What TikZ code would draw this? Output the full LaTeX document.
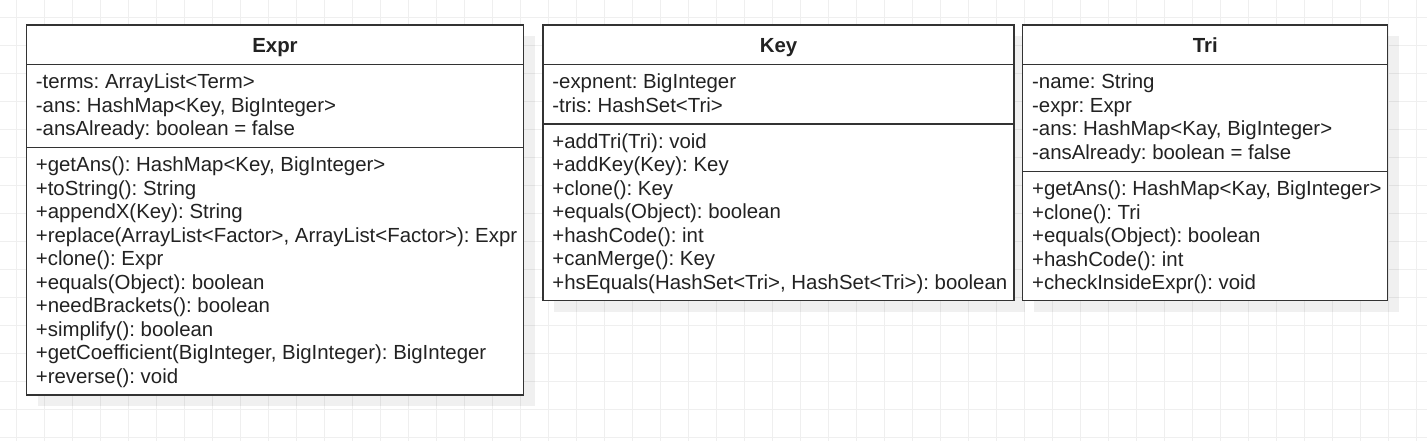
\documentclass[tikz,border=0pt]{standalone}
\usepackage{fontspec}
\setmainfont{Liberation Sans}
\usepackage{tikz}
\usetikzlibrary{positioning,backgrounds}
\definecolor{umlline}{HTML}{333333}
\definecolor{umltext}{HTML}{222222}
\definecolor{gridgray}{HTML}{EFEFEF}
\frenchspacing

\begin{document}
\begin{tikzpicture}[x=0.5pt, y=-0.5pt,
	class part/.style={draw=umlline, line width=0.75pt, fill=white, inner sep=0pt, outer sep=0pt, text=umltext},
	class head/.style={class part, anchor=north west, minimum height=19.75pt, text height=7.3pt, text depth=0pt, font=\bfseries\fontsize{10.2}{12}\selectfont},
	member/.style={anchor=base west, inner sep=0pt, text=umltext, font=\fontsize{10.2}{12}\selectfont}]
	
	\useasboundingbox (0,0) rectangle (1427,441);
	
	%Expr
	\node [class head, minimum width=248.5pt] (expr-head) at (26.5,25) {Expr};
	\node [class part, minimum width=248.5pt, minimum height=41.5pt, below=0pt of expr-head] (expr-attr) {};
	\node [class part, minimum width=248.5pt, minimum height=123.75pt, below=0pt of expr-attr] (expr-ops) {};
	
	\foreach \m [count=\i] in {-terms: ArrayList<Term>, {-ans: HashMap<Key, BigInteger>}, -ansAlready: boolean = false}
	  \node [member] (expr-attr-\i) at ([xshift=4.5pt, yshift={-0.25pt-\i*11.75pt}]expr-attr.north west) {\m};
	\foreach \m [count=\i] in {{+getAns(): HashMap<Key, BigInteger>}, +toString(): String, +appendX(Key): String,
	    {+replace(ArrayList<Factor>, ArrayList<Factor>): Expr}, +clone(): Expr, +equals(Object): boolean,
	    +needBrackets(): boolean, +simplify(): boolean, {+getCoefficient(BigInteger, BigInteger): BigInteger}, +reverse(): void}
	  \node [member] (expr-op-\i) at ([xshift=4.5pt, yshift={-0.25pt-\i*11.75pt}]expr-ops.north west) {\m};
	
	%Key
	\node [class head, minimum width=235.5pt] (key-head) at (543,25) {Key};
	\node [class part, minimum width=235.5pt, minimum height=29.75pt, below=0pt of key-head] (key-attr) {};
	\node [class part, minimum width=235.5pt, minimum height=88.25pt, below=0pt of key-attr] (key-ops) {};
	
	\foreach \m [count=\i] in {-expnent: BigInteger, -tris: HashSet<Tri>}
	  \node [member] (key-attr-\i) at ([xshift=4.5pt, yshift={-0.25pt-\i*11.75pt}]key-attr.north west) {\m};
	\foreach \m [count=\i] in {+addTri(Tri): void, +addKey(Key): Key, +clone(): Key, +equals(Object): boolean,
	    +hashCode(): int, +canMerge(): Key, {+hsEquals(HashSet<Tri>, HashSet<Tri>): boolean}}
	  \node [member] (key-op-\i) at ([xshift=4.5pt, yshift={-0.25pt-\i*11.75pt}]key-ops.north west) {\m};
	
	%Tri
	\node [class head, minimum width=182.5pt] (tri-head) at (1022.7,25) {Tri};
	\node [class part, minimum width=182.5pt, minimum height=53.5pt, below=0pt of tri-head] (tri-attr) {};
	\node [class part, minimum width=182.5pt, minimum height=64.5pt, below=0pt of tri-attr] (tri-ops) {};
	
	\foreach \m [count=\i] in {-name: String, -expr: Expr, {-ans: HashMap<Kay, BigInteger>}, -ansAlready: boolean = false}
	  \node [member] (tri-attr-\i) at ([xshift=4.5pt, yshift={-0.25pt-\i*11.75pt}]tri-attr.north west) {\m};
	\foreach \m [count=\i] in {{+getAns(): HashMap<Kay, BigInteger>}, +clone(): Tri, +equals(Object): boolean,
	    +hashCode(): int, +checkInsideExpr(): void}
	  \node [member] (tri-op-\i) at ([xshift=4.5pt, yshift={-0.25pt-\i*11.75pt}]tri-ops.north west) {\m};
	
	%grid and shadows
	\begin{scope}[on background layer]
	  \fill [white] (0,0) rectangle (1427,441);
	  \foreach \x in {16,44,...,1427}
	    \draw [gridgray, line width=0.5pt] (\x,0) -- (\x,441);
	  \foreach \y in {17,45,...,441}
	    \draw [gridgray, line width=0.5pt] (0,\y) -- (1427,\y);
	  \foreach \c in {expr,key,tri}
	    \fill [black, opacity=0.06] ([xshift=5.5pt, yshift=-5.5pt]\c-head.north west) rectangle ([xshift=5.5pt, yshift=-5.5pt]\c-ops.south east);
	\end{scope}
\end{tikzpicture}
\end{document}
